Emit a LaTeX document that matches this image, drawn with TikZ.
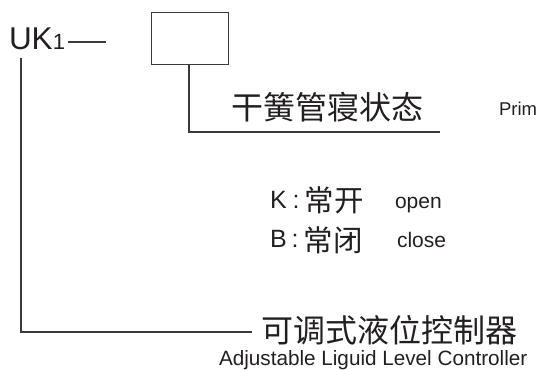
\documentclass[tikz,border=0pt]{standalone}
\usepackage{fontspec}
\setmainfont{Liberation Sans}
\newfontfamily\cjk{Noto Sans CJK SC}
\definecolor{ink}{HTML}{231F20}
\definecolor{wire}{HTML}{3A3A3A}
\newcommand{\fsz}[1]{\fontsize{#1bp}{#1bp}\selectfont}
\begin{document}
\begin{tikzpicture}[x=1bp,y=-1bp,
  txt/.style={anchor=base west,inner sep=0pt,outer sep=0pt,text=ink},
  wireline/.style={draw=wire,line width=1.2bp},
  boxshape/.style={draw=wire,line width=1.2bp,inner sep=0pt,minimum width=77bp,minimum height=52bp,anchor=north west}]
\useasboundingbox (0,0) rectangle (536,369);
% UK1
\node[txt] (uk) at (9,49) {\fsz{31.5}UK\fsz{22}1};
\coordinate (ukl1) at (68,42);
\coordinate (ukl2) at (106,42);
\draw[wireline] (ukl1) -- (ukl2);
% box
\node[boxshape] (box) at (151,12) {};
\coordinate (boxcorner) at (189,132);
\coordinate (boxend) at (440,132);
\draw[wireline] (box.south -| boxcorner) -- (boxcorner) -- (boxend);
\node[txt] (reed) at (231,119) {\cjk\fsz{32}干簧管寝状态};
\node[txt] (prim) at (499,115) {\fsz{18.5}Prim};
% K / B
\node[txt] (krow) at (270,208) {\fsz{25}K\hspace{6bp}:\hspace{5bp}\raisebox{-3bp}{\cjk\fsz{29.5}常开}};
\node[txt] (open) at (395,208) {\fsz{21}open};
\node[txt] (brow) at (270,247) {\fsz{25}B\hspace{5bp}:\hspace{5bp}\raisebox{-4bp}{\cjk\fsz{29.5}常闭}};
\node[txt] (close) at (397,247) {\fsz{21}close};
% bottom
\coordinate (ukdown) at (21,58);
\coordinate (corner) at (21,332);
\coordinate (ctrlend) at (252,332);
\draw[wireline] (ukdown) -- (corner) -- (ctrlend);
\node[txt] (ctrl) at (261,342) {\cjk\fsz{32}可调式液位控制器};
\node[txt] (ctrlen) at (219,365) {\fsz{20.7}Adjustable Liguid Level Controller};
\end{tikzpicture}
\end{document}
